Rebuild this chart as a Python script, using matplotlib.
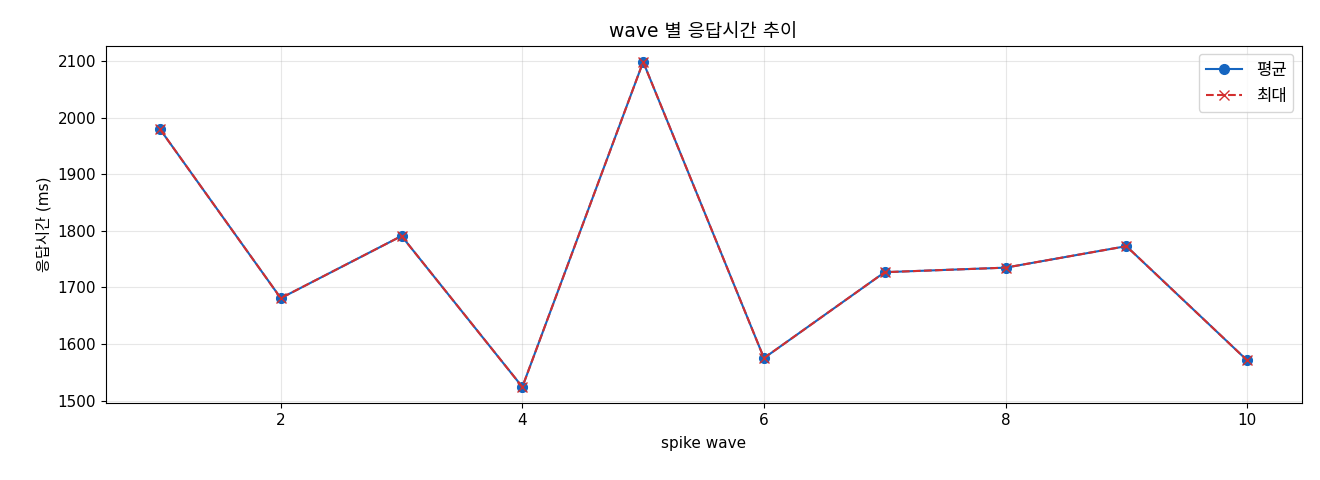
import matplotlib
matplotlib.use("Agg")
import matplotlib.pyplot as plt

plt.rcParams['font.family'] = ['DejaVu Sans', 'Noto Sans CJK KR']

waves = [1, 2, 3, 4, 5, 6, 7, 8, 9, 10]
avg_ms = [1980, 1681, 1791, 1524, 2099, 1575, 1727, 1735, 1773, 1571]
max_ms = [1980, 1681, 1791, 1524, 2099, 1575, 1727, 1735, 1773, 1571]

fig, ax = plt.subplots(figsize=(13.2, 4.8), dpi=100)
ax.plot(waves, avg_ms, color='#1565C0', marker='o', linestyle='-', linewidth=1.5, markersize=7, label='평균')
ax.plot(waves, max_ms, color='#D32F2F', marker='x', linestyle='--', linewidth=1.5, markersize=7, label='최대')
ax.set_title('wave 별 응답시간 추이', fontsize=13.5)
ax.set_xlabel('spike wave', fontsize=11, labelpad=6)
ax.set_ylabel('응답시간 (ms)', fontsize=11)
ax.tick_params(labelsize=11)
ax.grid(True, alpha=0.3)
ax.legend(loc='upper right', fontsize=12, handlelength=2.2)
fig.subplots_adjust(left=0.08, right=0.986, top=0.905, bottom=0.16)
fig.savefig('out.png', dpi=100)
